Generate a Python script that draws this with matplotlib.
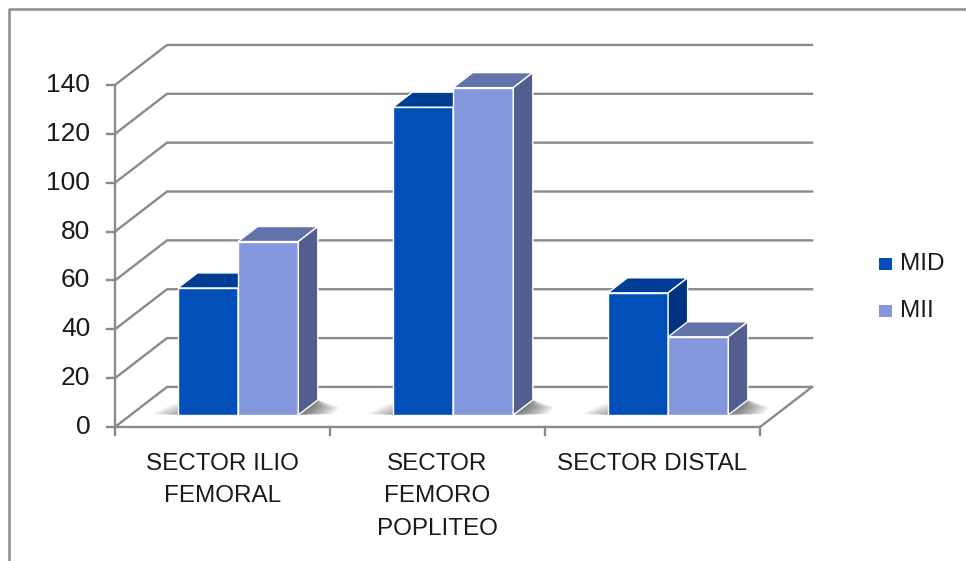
import matplotlib
matplotlib.use('Agg')
from matplotlib import pyplot as plt
from matplotlib.patches import Polygon, Rectangle
from matplotlib.lines import Line2D

categories = ['SECTOR ILIO\nFEMORAL', 'SECTOR\nFEMORO\nPOPLITEO', 'SECTOR DISTAL']
series_names = ['MID', 'MII']
mid_values = [52, 126, 50]
mii_values = [71, 134, 32]
y_ticks = [0, 20, 40, 60, 80, 100, 120, 140]

# front / top / side shades per series
mid_colors = ['#0150b9', '#003e95', '#003382']
mii_colors = ['#8597dc', '#6373aa', '#525f8e']
grid_color = '#8a8a8a'
text_color = '#1a1a1a'

plt.rcParams['font.family'] = ['Liberation Sans Narrow', 'Liberation Sans', 'DejaVu Sans']

# oblique projection: depth shifts right (in category units) and up (in value units)
DX = 0.242
DY = 16.4
BAR_W = 0.28
Z0, Z1 = 0.30, 0.675
YMAX = 140


def draw_box(ax, x0, x1, h, colors, zorder):
    front = [(x0 + Z0 * DX, Z0 * DY), (x1 + Z0 * DX, Z0 * DY),
             (x1 + Z0 * DX, h + Z0 * DY), (x0 + Z0 * DX, h + Z0 * DY)]
    top = [(x0 + Z0 * DX, h + Z0 * DY), (x1 + Z0 * DX, h + Z0 * DY),
           (x1 + Z1 * DX, h + Z1 * DY), (x0 + Z1 * DX, h + Z1 * DY)]
    side = [(x1 + Z0 * DX, Z0 * DY), (x1 + Z1 * DX, Z1 * DY),
            (x1 + Z1 * DX, h + Z1 * DY), (x1 + Z0 * DX, h + Z0 * DY)]
    for pts, c in zip([front, top, side], colors):
        ax.add_patch(Polygon(pts, closed=True, facecolor=c, edgecolor='white',
                             lw=1.0, zorder=zorder, joinstyle='miter'))


def draw_shadow(ax, xl, xr):
    y0 = Z0 * DY
    # soft shadow cast on the floor to the right of the group
    steps = 12
    for i in range(steps):
        f = 1 - i / steps
        s = 0.16 * f
        pts = [(xr + Z0 * DX, y0), (xr + Z0 * DX + s, y0 + 0.4),
               (xr + Z0 * DX + s * 0.9 + 0.5 * (Z1 - Z0) * DX, y0 + 0.5 * (Z1 - Z0) * DY),
               (xr + Z1 * DX, Z1 * DY)]
        ax.add_patch(Polygon(pts, closed=True, facecolor='#202020', edgecolor='none',
                             alpha=0.065, zorder=2))
    # blurred strip along the base on the left
    for i in range(8):
        f = 1 - i / 8
        s = 0.12 * f
        pts = [(xl + Z0 * DX - s, y0 + 0.4), (xl + Z0 * DX, y0),
               (xl + Z0 * DX, y0 + 4.5 * f + 0.5), (xl + Z0 * DX - s * 0.4, y0 + 3.5 * f)]
        ax.add_patch(Polygon(pts, closed=True, facecolor='#303030', edgecolor='none',
                             alpha=0.06, zorder=2))


fig = plt.figure(figsize=(9.66, 5.61), dpi=100)
ax = fig.add_axes([0, 0, 1, 1])
ax.set_xlim(-115 / 215, (966 - 115) / 215)
ax.set_ylim((427 - 561) / (342 / YMAX), 427 / (342 / YMAX))
ax.axis('off')

n = len(categories)
lw = 1.7

# walls: diagonal lines on the side wall, horizontal ones on the back wall
for v in y_ticks:
    ax.add_line(Line2D([0, DX, n + DX], [v, v + DY, v + DY], color=grid_color, lw=lw, zorder=1))
    ax.add_line(Line2D([-0.037, 0], [v, v], color=grid_color, lw=lw, zorder=1))
    ax.text(-0.115, v, str(v), ha='right', va='center', fontsize=19, color=text_color)

# floor outline and front axes
ax.add_line(Line2D([0, n, n + DX], [0, 0, DY], color=grid_color, lw=lw, zorder=1))
ax.add_line(Line2D([0, 0], [0, YMAX], color=grid_color, lw=lw, zorder=1))
for i in range(n + 1):
    ax.add_line(Line2D([i, i], [0, -3.4], color=grid_color, lw=lw, zorder=1))

for i, cat in enumerate(categories):
    c = i + 0.5
    ax.text(c, -10.5, cat, ha='center', va='top', fontsize=17.5, color=text_color,
            linespacing=1.62)
    draw_shadow(ax, c - BAR_W, c + BAR_W)
    draw_box(ax, c - BAR_W, c, mid_values[i], mid_colors, 3 + 2 * i)
    draw_box(ax, c, c + BAR_W, mii_values[i], mii_colors, 4 + 2 * i)

# legend
for k, (name, col) in enumerate(zip(series_names, [mid_colors[0], mii_colors[0]])):
    yc = 264 + 47 * k
    fig.patches.append(Rectangle((879 / 966, 1 - (yc + 6) / 561), 13 / 966, 12 / 561,
                                 transform=fig.transFigure, facecolor=col, edgecolor='none'))
    fig.text(900 / 966, 1 - yc / 561, name, ha='left', va='center', fontsize=17.5,
             color=text_color)

# chart area border (continues past the right and bottom edges)
fig.add_artist(Line2D([8.5 / 966, 8.5 / 966, 1.01], [-0.01, 1 - 8.5 / 561, 1 - 8.5 / 561],
                      transform=fig.transFigure, color='#8c8c8c', lw=1.8))

fig.savefig('out.png', dpi=100)
